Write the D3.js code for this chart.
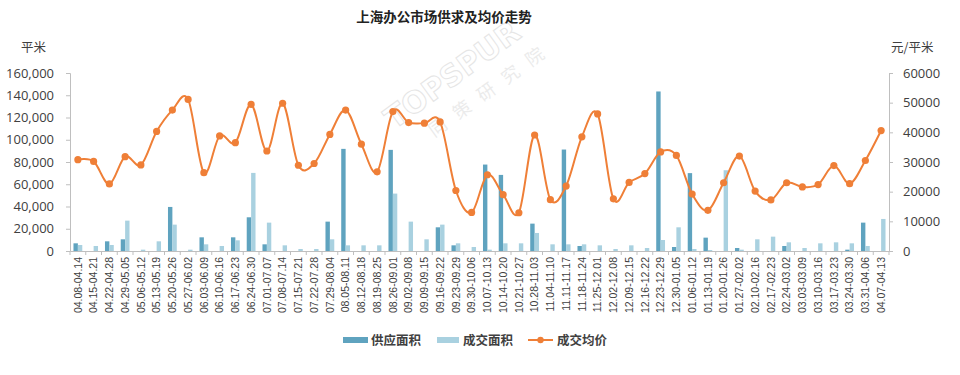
<!DOCTYPE html>
<html>
<head>
<meta charset="utf-8">
<script src="https://cdn.jsdelivr.net/npm/d3@7"></script>
<style>
  body { margin: 0; background: #fff; }
  svg { font-family: "Noto Sans CJK SC", "Microsoft YaHei", sans-serif; }
</style>
</head>
<body>
<svg></svg>
<script>
let weeks = ['04.08-04.14', '04.15-04.21', '04.22-04.28', '04.29-05.05', '05.06-05.12', '05.13-05.19', '05.20-05.26', '05.27-06.02',
  '06.03-06.09', '06.10-06.16', '06.17-06.23', '06.24-06.30', '07.01-07.07', '07.08-07.14', '07.15-07.21', '07.22-07.28',
  '07.29-08.04', '08.05-08.11', '08.12-08.18', '08.19-08.25', '08.26-09.01', '09.02-09.08', '09.09-09.15', '09.16-09.22',
  '09.23-09.29', '09.30-10.06', '10.07-10.13', '10.14-10.20', '10.21-10.27', '10.28-11.03', '11.04-11.10', '11.11-11.17',
  '11.18-11.24', '11.25-12.01', '12.02-12.08', '12.09-12.15', '12.16-12.22', '12.23-12.29', '12.30-01.05', '01.06-01.12',
  '01.13-01.19', '01.20-01.26', '01.27-02.02', '02.10-02.16', '02.17-02.23', '02.24-03.02', '03.03-03.09', '03.10-03.16',
  '03.17-03.23', '03.24-03.30', '03.31-04.06', '04.07-04.13']
// 供应面积 (平米)
let supply = [6900, 0, 8700, 10500, 0, 0, 39600, 0, 12300, 0, 12300, 30300, 6000, 0, 0, 0,
  26400, 91800, 0, 0, 90900, 0, 0, 21300, 5100, 0, 77700, 68400, 0, 24600, 0, 91200,
  4500, 0, 0, 0, 0, 143400, 3600, 70000, 12000, 0, 2700, 0, 0, 4500, 0, 0,
  0, 1200, 25500, 0]
// 成交面积 (平米)
let deal = [5400, 4500, 5400, 27300, 1200, 8700, 23700, 1200, 6000, 4500, 9600, 70200, 25500, 5100, 1800, 1800,
  10500, 5100, 5100, 5100, 51600, 26400, 10500, 23700, 6900, 3600, 1200, 6900, 6900, 16200, 6000, 6000,
  6000, 5100, 1800, 5100, 2700, 9900, 21300, 1800, 900, 72600, 1200, 10500, 12900, 7800, 2700, 6900,
  7800, 6900, 4500, 28800]
// 成交均价 (元/平米)
let price = [30800, 30200, 22600, 31800, 29000, 40300, 47500, 51100, 26400, 38800, 36500, 49400, 33700, 49800, 28900, 29500,
  39300, 47500, 36000, 26700, 47000, 43300, 43100, 43500, 20400, 13000, 25700, 19000, 12900, 39100, 17300, 21900,
  38500, 46200, 17600, 23100, 26100, 33400, 32200, 19200, 13700, 23000, 32000, 20200, 17200, 23000, 21600, 22400,
  28800, 22700, 30500, 40600]
let leftTicks = [0, 20000, 40000, 60000, 80000, 100000, 120000, 140000, 160000]
let rightTicks = [0, 10000, 20000, 30000, 40000, 50000, 60000]

let width = 960
let height = 375
let plotLeft = 70, plotRight = 889, plotTop = 73, plotBottom = 251
let darkBlue = '#5fa3bf'
let lightBlue = '#a9d1e0'
let orange = '#ef7f37'
let axisGray = '#bfbfbf'
let textColor = '#404040'

let svg = d3.select('svg').attr('width', width).attr('height', height)

let xScale = d3.scaleBand().domain(weeks).range([plotLeft, plotRight])
let sub = d3.scaleBand().domain(['supply', 'deal']).range([xScale.bandwidth() / 2 - 4.4, xScale.bandwidth() / 2 + 4.4])
let yLeft = d3.scaleLinear().domain([0, 160000]).range([plotBottom, plotTop])
let yRight = d3.scaleLinear().domain([0, 60000]).range([plotBottom, plotTop])

// watermark
let wm = svg.append('g').attr('transform', 'translate(394,130) rotate(-36)').attr('opacity', 0.14)
wm.append('text').attr('x', 0).attr('y', 0).attr('font-size', 30).attr('font-weight', 'bold')
  .attr('font-family', 'DejaVu Sans, sans-serif').attr('fill', 'none').attr('stroke', '#555').attr('stroke-width', 1.1)
  .text('TOPSPUR')
wm.append('text').attr('x', 28).attr('y', 30).attr('font-size', 18).attr('fill', '#777')
  .attr('letter-spacing', 12).text('同策研究院')

// title
svg.append('text')
  .attr('x', 444).attr('y', 22)
  .attr('text-anchor', 'middle')
  .attr('font-size', 13.5).attr('font-weight', 'bold')
  .attr('fill', '#222')
  .text('上海办公市场供求及均价走势')

// units
svg.append('text').attr('x', 21).attr('y', 52).attr('font-size', 12.5).attr('fill', textColor).text('平米')
svg.append('text').attr('x', 891).attr('y', 52).attr('font-size', 12.5).attr('fill', textColor).text('元/平米')

// bars
let bars = svg.append('g')
bars.selectAll('.supply')
  .data(weeks)
  .enter()
  .append('rect')
  .attr('class', 'supply')
  .attr('x', (d) => xScale(d) + sub('supply'))
  .attr('width', sub.bandwidth())
  .attr('y', (d, i) => yLeft(supply[i]))
  .attr('height', (d, i) => plotBottom - yLeft(supply[i]))
  .attr('fill', darkBlue)
bars.selectAll('.deal')
  .data(weeks)
  .enter()
  .append('rect')
  .attr('class', 'deal')
  .attr('x', (d) => xScale(d) + sub('deal'))
  .attr('width', sub.bandwidth())
  .attr('y', (d, i) => yLeft(deal[i]))
  .attr('height', (d, i) => plotBottom - yLeft(deal[i]))
  .attr('fill', lightBlue)

// axes
let yAxisLeft = d3.axisLeft(yLeft).tickValues(leftTicks).tickSize(4).tickPadding(12).tickFormat(d3.format(','))
let gl = svg.append('g').attr('transform', 'translate(' + plotLeft + ',0)').call(yAxisLeft)
let yAxisRight = d3.axisRight(yRight).tickValues(rightTicks).tickSize(4).tickPadding(10).tickFormat(d3.format('d'))
let gr = svg.append('g').attr('transform', 'translate(' + plotRight + ',0)').call(yAxisRight)
let xAxis = d3.axisBottom(xScale).tickSize(0).tickPadding(6)
let gx = svg.append('g').attr('transform', 'translate(0,' + plotBottom + ')').call(xAxis)
// tick marks between categories
gx.selectAll('.sep')
  .data(weeks.concat(['end']))
  .enter()
  .append('line')
  .attr('x1', (d, i) => plotLeft + i * xScale.step())
  .attr('x2', (d, i) => plotLeft + i * xScale.step())
  .attr('y1', 0).attr('y2', 4)
  .attr('stroke', axisGray)
gx.selectAll('.tick text')
  .attr('transform', 'rotate(-90)')
  .attr('text-anchor', 'end')
  .attr('x', -6).attr('y', 0).attr('dy', '0.35em')
  .attr('font-size', 10.5)
  .attr('font-family', 'Liberation Sans, Arial, sans-serif')
  .attr('fill', textColor)
;[gl, gr, gx].forEach((g) => {
  g.select('.domain').attr('stroke', axisGray)
  g.selectAll('.tick line').attr('stroke', axisGray)
})
;[gl, gr].forEach((g) => {
  g.selectAll('.tick text').attr('font-size', 13).attr('fill', textColor)
    .attr('font-family', 'Open Sans, Liberation Sans, sans-serif')
})

// price line
let line = d3.line()
  .x((d, i) => xScale(weeks[i]) + xScale.bandwidth() / 2)
  .y((d) => yRight(d))
  .curve(d3.curveCardinal.tension(0))
svg.append('path')
  .datum(price)
  .attr('d', line)
  .attr('fill', 'none')
  .attr('stroke', orange)
  .attr('stroke-width', 2)
svg.append('g').selectAll('circle')
  .data(price)
  .enter()
  .append('circle')
  .attr('cx', (d, i) => xScale(weeks[i]) + xScale.bandwidth() / 2)
  .attr('cy', (d) => yRight(d))
  .attr('r', 3.6)
  .attr('fill', orange)

// legend
let legend = svg.append('g').attr('font-size', 12.5).attr('font-weight', 'bold').attr('fill', textColor)
legend.append('rect').attr('x', 343).attr('y', 337).attr('width', 25).attr('height', 6).attr('fill', darkBlue)
legend.append('text').attr('x', 371).attr('y', 345).text('供应面积')
legend.append('rect').attr('x', 437).attr('y', 337).attr('width', 22).attr('height', 6).attr('fill', lightBlue)
legend.append('text').attr('x', 463).attr('y', 345).text('成交面积')
legend.append('line').attr('x1', 528).attr('x2', 553).attr('y1', 340).attr('y2', 340).attr('stroke', orange).attr('stroke-width', 2)
legend.append('circle').attr('cx', 540.5).attr('cy', 340).attr('r', 3.2).attr('fill', orange)
legend.append('text').attr('x', 557).attr('y', 345).text('成交均价')
</script>
</body>
</html>
